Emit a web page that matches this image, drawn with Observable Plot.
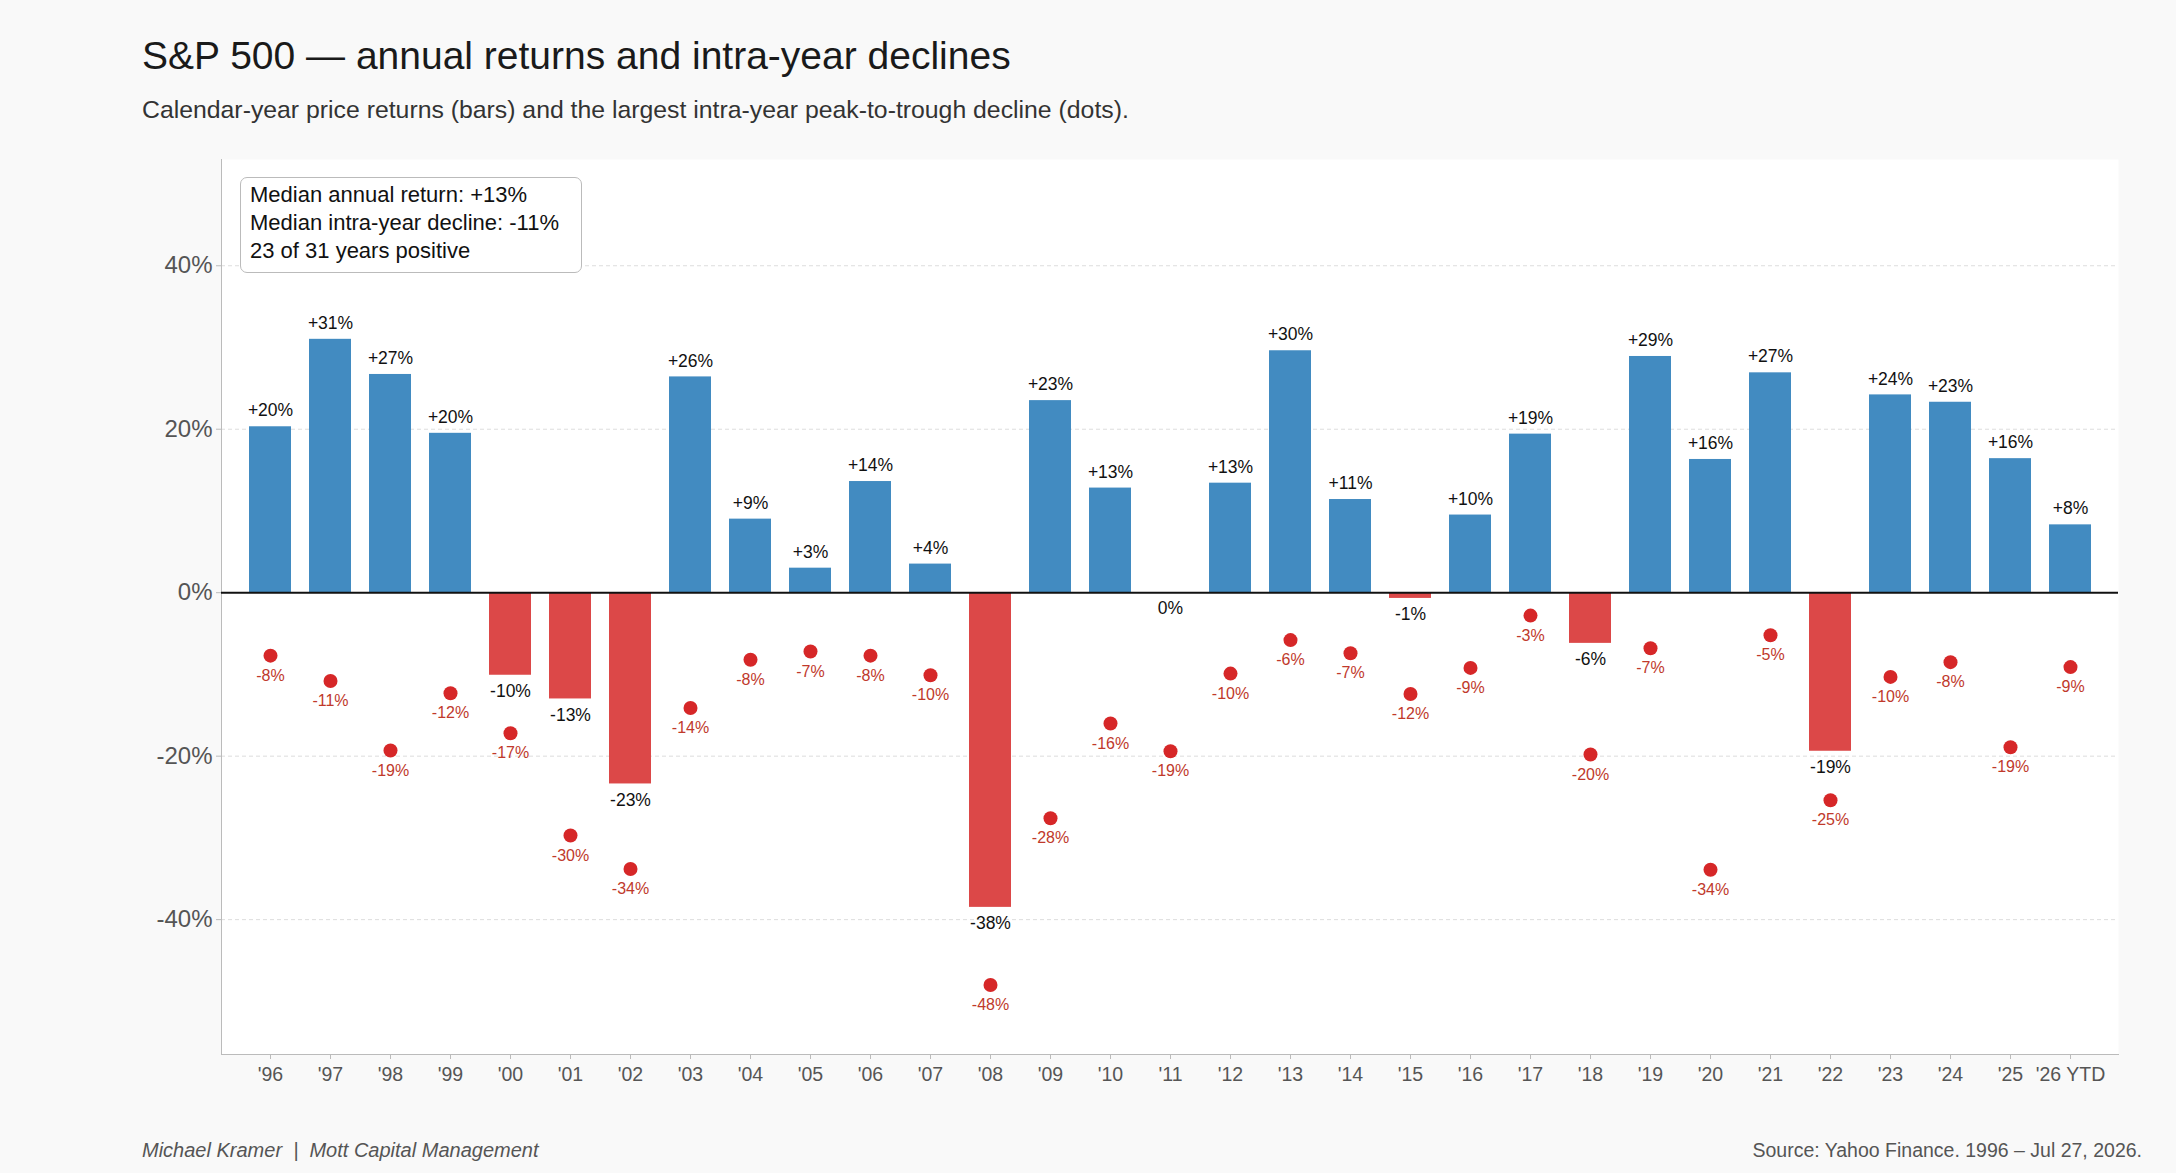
<!DOCTYPE html>
<html><head><meta charset="utf-8">
<script src="https://cdn.jsdelivr.net/npm/d3@7"></script>
<script src="https://cdn.jsdelivr.net/npm/@observablehq/plot@0.6"></script>
<style>
body{margin:0;background:#f9f9f9;font-family:"Liberation Sans",Arial,sans-serif;width:2176px;height:1173px;position:relative;overflow:hidden}
#t{position:absolute;left:142px;top:34px;font-size:39px;color:#1a1a1a}
#s{position:absolute;left:142px;top:96px;font-size:24.8px;color:#333}
#c{position:absolute;left:0;top:149px}
#box{position:absolute;left:240px;top:177px;width:342px;height:96px;background:#fff;border:1.5px solid #bbb;border-radius:7px;font-size:22px;line-height:28px;padding:3px 0 0 9px;box-sizing:border-box;color:#111}
#fl{position:absolute;left:142px;top:1139px;font-size:20px;font-style:italic;color:#555}
#fr{position:absolute;right:34px;top:1139px;font-size:19.5px;color:#555}
</style></head><body>
<div id="t">S&amp;P 500 — annual returns and intra-year declines</div>
<div id="s">Calendar-year price returns (bars) and the largest intra-year peak-to-trough decline (dots).</div>
<div id="c"></div>
<div id="box">Median annual return: +13%<br>Median intra-year decline: -11%<br>23 of 31 years positive</div>
<div id="fl">Michael Kramer &nbsp;|&nbsp; Mott Capital Management</div>
<div id="fr">Source: Yahoo Finance. 1996 – Jul 27, 2026.</div>
<script>
const years=["'96","'97","'98","'99","'00","'01","'02","'03","'04","'05","'06","'07","'08","'09","'10","'11","'12","'13","'14","'15","'16","'17","'18","'19","'20","'21","'22","'23","'24","'25","'26 YTD"];
const returns=[20.3,31,26.7,19.5,-10.1,-13,-23.4,26.4,9,3,13.6,3.5,-38.5,23.5,12.8,0,13.4,29.6,11.4,-0.7,9.5,19.4,-6.2,28.9,16.3,26.9,-19.4,24.2,23.3,16.4,8.3];
const returnLabels=["+20%","+31%","+27%","+20%","-10%","-13%","-23%","+26%","+9%","+3%","+14%","+4%","-38%","+23%","+13%","0%","+13%","+30%","+11%","-1%","+10%","+19%","-6%","+29%","+16%","+27%","-19%","+24%","+23%","+16%","+8%"];
const declines=[-7.7,-10.8,-19.3,-12.3,-17.2,-29.7,-33.8,-14.1,-8.2,-7.2,-7.7,-10.1,-48,-27.6,-16,-19.4,-9.9,-5.8,-7.4,-12.4,-9.2,-2.8,-19.8,-6.8,-33.9,-5.2,-25.4,-10.3,-8.5,-18.9,-9.1];
const declineLabels=["-8%","-11%","-19%","-12%","-17%","-30%","-34%","-14%","-8%","-7%","-8%","-10%","-48%","-28%","-16%","-19%","-10%","-6%","-7%","-12%","-9%","-3%","-20%","-7%","-34%","-5%","-25%","-10%","-8%","-19%","-9%"];
const yTicks=[-40,-20,0,20,40];
const data=years.map((y,i)=>({y,r:returns[i],rl:returnLabels[i],d:declines[i],dl:declineLabels[i]}));
const pos=data.filter(d=>d.r>0), neg=data.filter(d=>d.r<=0);
const chart=Plot.plot({
 width:2176,height:950,marginLeft:221,marginRight:58,marginTop:10,marginBottom:45,
 style:{background:"transparent",fontFamily:"Liberation Sans, Arial, sans-serif"},
 x:{domain:years,padding:0.3,label:null},
 y:{domain:[-56.5,53],ticks:yTicks,tickFormat:d=>d+"%",label:null},
 marks:[
  Plot.frame({fill:"white",stroke:null}),
  Plot.gridY(yTicks.filter(t=>t!==0),{stroke:"#ddd",strokeDasharray:"4,3",strokeOpacity:1}),
  Plot.frame({anchor:"left",stroke:"#bbb"}),
  Plot.frame({anchor:"bottom",stroke:"#bbb"}),
  Plot.barY(data,{x:"y",y:"r",fill:d=>d.r>=0?"#428bc1":"#dc4848"}),
  Plot.ruleY([0],{stroke:"#111",strokeWidth:2}),
  Plot.text(pos,{x:"y",y:"r",text:"rl",dy:-16,fontSize:17.5,fill:"#111"}),
  Plot.text(neg,{x:"y",y:"r",text:"rl",dy:16,fontSize:17.5,fill:"#111"}),
  Plot.dot(data,{x:"y",y:"d",r:7,fill:"#d62728"}),
  Plot.text(data,{x:"y",y:"d",text:"dl",dy:20,fontSize:16,fill:"#c0392b"}),
  Plot.axisY({ticks:yTicks,tickFormat:d=>d+"%",tickSize:5,stroke:"#bbb",fontSize:24,fill:"#555",tickPadding:4}),
  Plot.axisX({tickSize:5,stroke:"#bbb",fontSize:19.5,fill:"#555",tickPadding:8})
 ]
});
document.getElementById("c").append(chart);
</script></body></html>
